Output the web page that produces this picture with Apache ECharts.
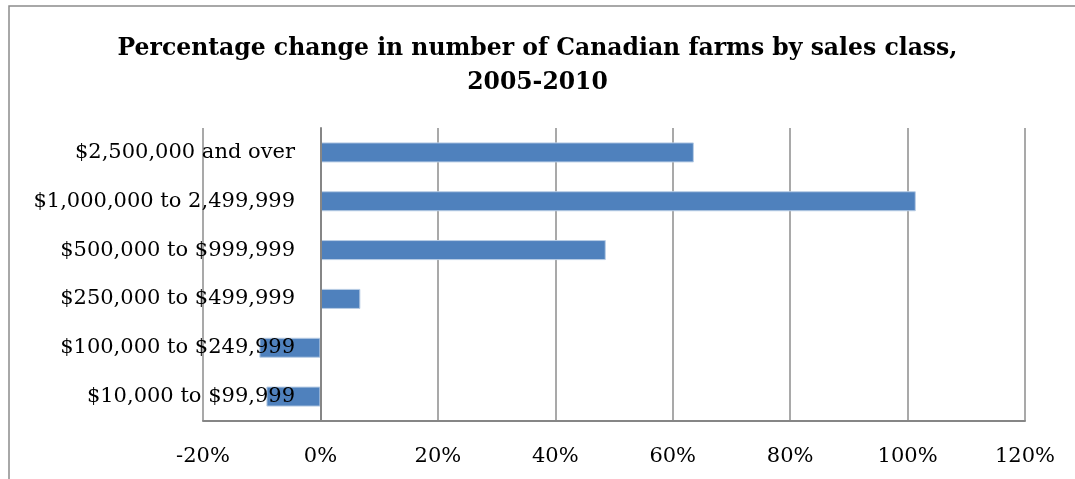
<!DOCTYPE html>
<html>
<head>
<meta charset="utf-8">
<script src="https://cdn.jsdelivr.net/npm/echarts@6/dist/echarts.min.js"></script>
<style>
  html, body { margin: 0; padding: 0; background: #fff; }
  #chart { width: 1075px; height: 479px; }
</style>
</head>
<body>
<div id="chart"></div>
<script>
var salesClasses = ['$10,000 to $99,999', '$100,000 to $249,999', '$250,000 to $499,999',
                    '$500,000 to $999,999', '$1,000,000 to 2,499,999', '$2,500,000 and over'];
var pctChange = [-9.2, -10.4, 6.8, 48.6, 101.4, 63.6];
var tickMin = -20, tickMax = 120, tickStep = 20;

var serif = '"DejaVu Serif", "Liberation Serif", serif';
var myChart = echarts.init(document.getElementById('chart'));

var option = {
    animation: false,
    // outer chart frame: only left and top edges are visible
    graphic: [{
        type: 'polyline',
        shape: { points: [[9, 600], [9, 6], [1200, 6]] },
        style: { fill: null, stroke: '#8c8c8c', lineWidth: 1.5 },
        silent: true
    }],
    title: {
        text: 'Percentage change in number of Canadian farms by sales class,\n2005-2010',
        left: 'center',
        top: 27,
        textStyle: {
            fontFamily: serif,
            fontWeight: 'bold',
            fontSize: 23.5,
            lineHeight: 34,
            color: '#000'
        }
    },
    grid: {
        left: 203,
        right: 50,
        top: 128,
        bottom: 58,
        outerBoundsMode: 'none',
        containLabel: false
    },
    xAxis: {
        type: 'value',
        min: tickMin,
        max: tickMax,
        interval: tickStep,
        axisLine: { show: true, lineStyle: { color: '#868686', width: 2 } },
        axisTick: { show: false },
        splitLine: { show: true, lineStyle: { color: '#8c8c8c', width: 1.5 } },
        axisLabel: {
            formatter: '{value}%',
            margin: 25,
            fontFamily: serif,
            fontSize: 21,
            color: '#000'
        }
    },
    yAxis: {
        type: 'category',
        data: salesClasses,
        z: 5,
        axisLine: { show: true, onZero: true, lineStyle: { color: '#868686', width: 2 } },
        axisTick: { show: false },
        axisLabel: {
            margin: -92,
            fontFamily: serif,
            fontSize: 21,
            color: '#000'
        }
    },
    series: [{
        type: 'bar',
        data: pctChange,
        barCategoryGap: '59%',
        itemStyle: {
            color: '#4f81bd',
            borderColor: '#b9cde5',
            borderWidth: 1
        }
    }]
};
myChart.setOption(option);
</script>
</body>
</html>
